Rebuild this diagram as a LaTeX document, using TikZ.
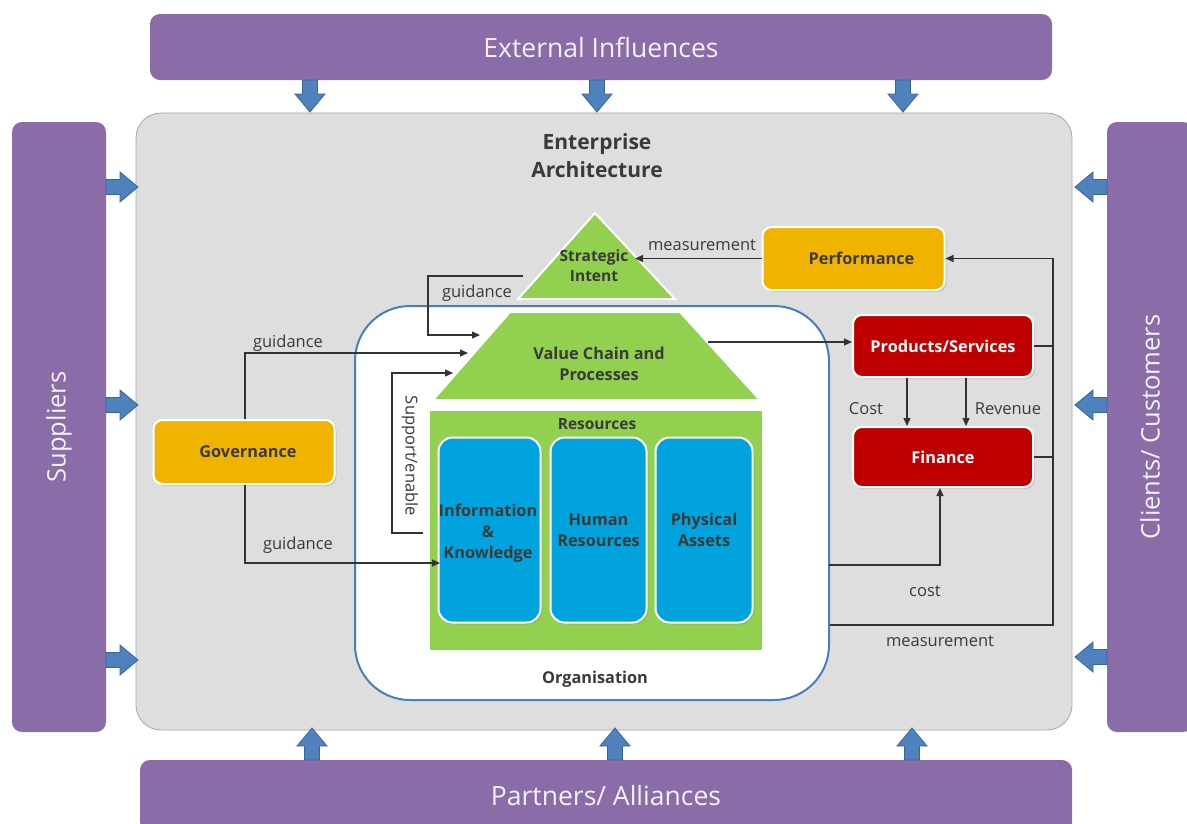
\documentclass[tikz,border=0pt]{standalone}
\usepackage{fontspec}
\setmainfont{Open Sans}
\usetikzlibrary{arrows.meta,shadows,calc}
\definecolor{purp}{HTML}{8A6CA8}
\definecolor{greyb}{HTML}{DEDEDE}
\definecolor{greyd}{HTML}{A6A6A6}
\definecolor{grn}{HTML}{92D050}
\definecolor{blu}{HTML}{00A3DD}
\definecolor{orgb}{HTML}{4A7EBB}
\definecolor{yel}{HTML}{F0B400}
\definecolor{redb}{HTML}{C00000}
\definecolor{arrb}{HTML}{4F81BD}
\definecolor{arrbd}{HTML}{3A6599}
\definecolor{txtc}{HTML}{3A3A3A}
\newcommand\myfs[2]{\fontsize{#1}{#2}\selectfont}
\begin{document}
\begin{tikzpicture}[x=1pt,y=-1pt,
  bar/.style={fill=purp, rounded corners=10pt, font=\myfs{26.5}{30}, text=white!95!black, inner sep=0pt},
  vbar/.style={bar, font=\myfs{25.5}{30}},
  box/.style={rounded corners=9pt, draw=white, line width=2pt, inner sep=0pt,
              drop shadow={shadow xshift=2pt, shadow yshift=-2pt, opacity=0.25}},
  blbl/.style={font=\myfs{16.3}{21}\bfseries, text=txtc, align=center},
  plbl/.style={font=\myfs{16.5}{19}, text=txtc},
  conn/.style={draw=black!80, line width=1.2pt, -{Triangle[length=8pt,width=7pt]}},
  line/.style={draw=black!80, line width=1.2pt},
  barrow/.pic={\draw[fill=arrb, draw=arrbd, line width=0.8pt]
     (0,-7.5) -- (14,-7.5) -- (14,-15) -- (32,0) -- (14,15) -- (14,7.5) -- (0,7.5) -- cycle;}
]
\fill[white] (0,0) rectangle (1187,823);
\useasboundingbox (0,0) rectangle (1187,823);

% outer bars
\node[bar, minimum width=902pt, minimum height=66pt] (ext) at (601,47) {External Influences};
\node[vbar, rotate=90, minimum width=610pt, minimum height=94pt] (sup) at (59,427) {Suppliers};
\node[vbar, rotate=90, minimum width=610pt, minimum height=86pt] (cli) at (1150,427) {Clients/ Customers};
\node[bar, minimum width=932pt, minimum height=72pt] (par) at (606,796) {Partners/ Alliances};

% enterprise architecture
\node[draw=greyd, fill=greyb, rounded corners=25pt, minimum width=936pt, minimum height=617pt, line width=0.8pt] (ea) at (604,421.5) {};
\node[font=\myfs{21}{28}\bfseries, text=txtc, align=center] (eat) at (597,156) {Enterprise\\Architecture};

% block arrows
\pic[rotate=-90] at (310,80) {barrow};
\pic[rotate=-90] at (597,80) {barrow};
\pic[rotate=-90] at (903,80) {barrow};
\pic at (106,187) {barrow};
\pic at (106,405) {barrow};
\pic at (106,660) {barrow};
\pic[rotate=180] at (1107,187) {barrow};
\pic[rotate=180] at (1107,405) {barrow};
\pic[rotate=180] at (1107,657) {barrow};
\pic[rotate=90] at (312,760) {barrow};
\pic[rotate=90] at (615,760) {barrow};
\pic[rotate=90] at (912,760) {barrow};

% organisation
\node[draw=orgb, line width=2pt, fill=white, rounded corners=55pt, minimum width=474pt, minimum height=394pt] (org) at (592,503) {};
\node[blbl] (orgt) at (595,679) {Organisation};

% strategic intent
\coordinate (siA) at (595,213);
\coordinate (siR) at (675,299);
\coordinate (siL) at (518,299);
\draw[fill=grn, draw=white, line width=2pt] (siA) -- (siR) -- (siL) -- cycle;
\node[blbl, font=\myfs{15.5}{20}\bfseries] (si) at (594,266) {Strategic\\Intent};
\coordinate (siRm) at ($(siA)!0.5!(siR)$);

% value chain
\coordinate (vcTL) at (510,312);
\coordinate (vcTR) at (680,312);
\coordinate (vcBR) at (760,400);
\coordinate (vcBL) at (433,400);
\draw[fill=grn, draw=white, line width=2pt] (vcTL) -- (vcTR) -- (vcBR) -- (vcBL) -- cycle;
\node[blbl] (vc) at (599,364) {Value Chain and\\Processes};

% resources
\node[fill=grn, minimum width=332pt, minimum height=239pt, inner sep=0pt] (res) at (596,530.5) {};
\node[blbl, font=\myfs{15.5}{20}\bfseries] (rest) at (597,424) {Resources};
\node[box, fill=blu, rounded corners=14pt, minimum width=102pt, minimum height=185pt] (ik) at (489.5,530) {};
\node[blbl] at (488,533) {Information\\\&\\Knowledge};
\node[box, fill=blu, rounded corners=14pt, minimum width=96pt, minimum height=185pt] (hr) at (598.5,530) {};
\node[blbl] at (hr.center) {Human\\Resources};
\node[box, fill=blu, rounded corners=14pt, minimum width=97pt, minimum height=185pt] (pa) at (704,530) {};
\node[blbl] at (pa.center) {Physical\\Assets};

% coloured boxes
\node[box, fill=yel, minimum width=181pt, minimum height=64pt, blbl] (gov) at (244,452) {\hspace*{8pt}Governance};
\node[box, fill=yel, minimum width=182pt, minimum height=63pt, blbl] (perf) at (853.5,258.5) {\hspace*{16pt}Performance};
\node[box, fill=redb, minimum width=180pt, minimum height=62pt, blbl, text=white] (ps) at (943,346) {Products/Services};
\node[box, fill=redb, minimum width=180pt, minimum height=60pt, blbl, text=white] (fin) at (943,457) {Finance};

% connectors
\draw[conn] (perf.west) -- (perf.west -| siRm);
\node[plbl] (lm1) at (702,245) {measurement};

\coordinate (g1s) at (523,276);
\coordinate (g1e) at (480,335);
\draw[conn] (g1s) -- (428,276) |- (g1e);
\node[plbl] (lg1) at (477,293) {guidance};

\coordinate (g2e) at (468,353);
\draw[conn] (gov.north -| 245,0) |- (g2e);
\node[plbl] (lg2) at (288,343) {guidance};

\coordinate (g3e) at (440,563);
\draw[conn] (gov.south -| 245,0) |- (g3e);
\node[plbl] (lg3) at (298,545) {guidance};

\coordinate (se1) at (423,533);
\coordinate (se2) at (453,373);
\draw[conn] (se1) -- (392,533) |- (se2);
\node[plbl] (lse) at (410,456) [rotate=-90] {Support/enable};

\coordinate (vcr) at (708,342);
\draw[conn] (vcr) -- (vcr -| ps.west);

\draw[conn] (ps.south -| 907,0) -- (fin.north -| 907,0);
\draw[conn] (ps.south -| 966,0) -- (fin.north -| 966,0);
\node[plbl] (lcost) at (866,409) {Cost};
\node[plbl] (lrev) at (1008,409) {Revenue};

\coordinate (rv) at (1053,625);
\draw[line] (ps.east) -- (ps.east -| rv);
\draw[line] (fin.east) -- (fin.east -| rv);
\draw[conn] (org.east |- rv) -- (rv) |- (perf.east);
\node[plbl] (lm2) at (940,641) {measurement};

\coordinate (cs) at (829,565);
\draw[conn] (cs) -| (fin.south -| 940,0);
\node[plbl] (lc2) at (925,591) {cost};
\end{tikzpicture}
\end{document}
